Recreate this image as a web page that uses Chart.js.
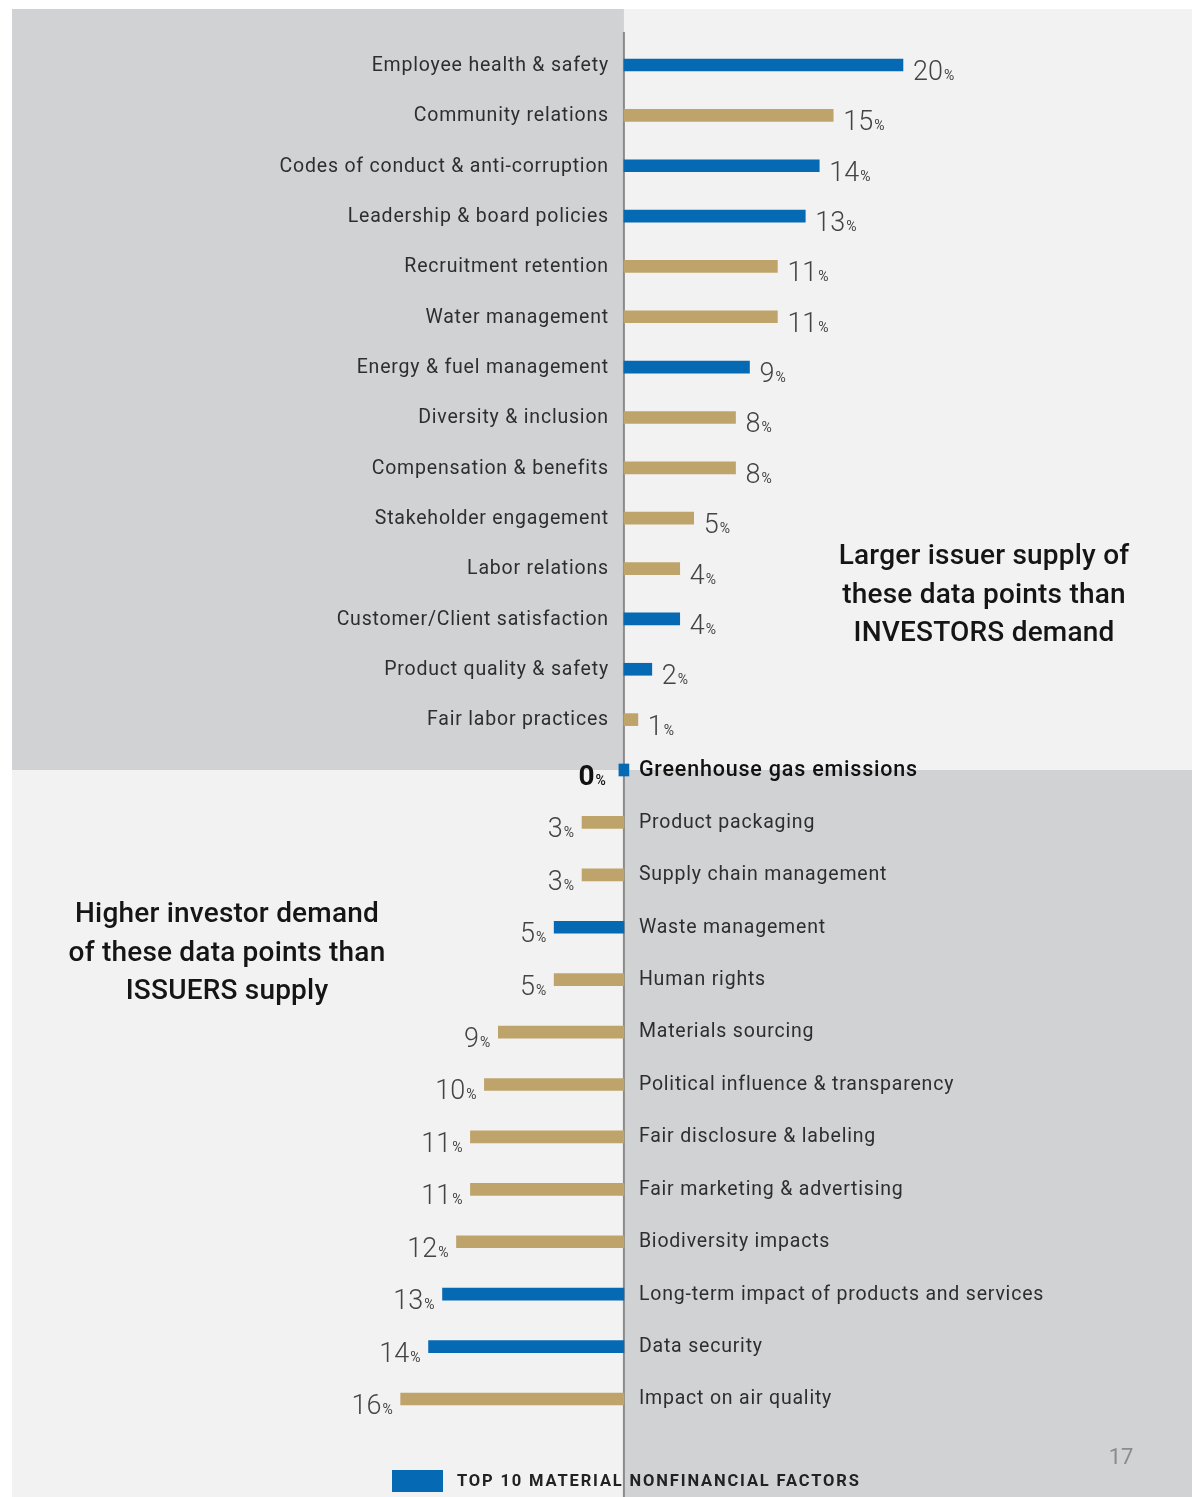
<!DOCTYPE html>
<html>
<head>
<meta charset="utf-8">
<script src="https://cdn.jsdelivr.net/npm/chart.js@4.4.1/dist/chart.umd.min.js"></script>
<style>
html,body{margin:0;padding:0;background:#ffffff;}
#wrap{width:1192px;height:1497px;position:relative;}
</style>
</head>
<body>
<div id="wrap"><canvas id="c" width="1192" height="1497"></canvas></div>
<script>
const categories = [
  "Employee health & safety","Community relations","Codes of conduct & anti-corruption",
  "Leadership & board policies","Recruitment retention","Water management",
  "Energy & fuel management","Diversity & inclusion","Compensation & benefits",
  "Stakeholder engagement","Labor relations","Customer/Client satisfaction",
  "Product quality & safety","Fair labor practices","Greenhouse gas emissions",
  "Product packaging","Supply chain management","Waste management","Human rights",
  "Materials sourcing","Political influence & transparency","Fair disclosure & labeling",
  "Fair marketing & advertising","Biodiversity impacts","Long-term impact of products and services",
  "Data security","Impact on air quality"
];
const values = [20,15,14,13,11,11,9,8,8,5,4,4,2,1,0,-3,-3,-5,-5,-9,-10,-11,-11,-12,-13,-14,-16];
const topTen = [1,0,1,1,0,0,1,0,0,0,0,1,1,0,1,0,0,1,0,0,0,0,0,0,1,1,0];
const topNote = ["Larger issuer supply of","these data points than","INVESTORS demand"];
const bottomNote = ["Higher investor demand","of these data points than","ISSUERS supply"];
const legendText = "TOP 10 MATERIAL NONFINANCIAL FACTORS";
const pageNumber = "17";

const BLUE = "#0569b4", GOLD = "#bea46a", GRAY = "#d1d2d4", LIGHT = "#f2f2f2";
const SPLIT = categories.indexOf("Greenhouse gas emissions");

const topIdx = categories.map((c,i)=>i).filter(i => i <= SPLIT);
const botIdx = categories.map((c,i)=>i).filter(i => i > SPLIT);

function scaleFor(i) { return i <= SPLIT ? "yTop" : "yBot"; }

const bgPlugin = {
  id: "bg",
  beforeDatasetsDraw(chart) {
    const ctx = chart.ctx, x = chart.scales.x;
    const x0 = x.getPixelForValue(0);
    const midY = chart.scales.yTop.getPixelForValue(SPLIT);
    ctx.save();
    ctx.fillStyle = "#ffffff"; ctx.fillRect(0,0,1192,1497);
    ctx.fillStyle = LIGHT; ctx.fillRect(12,9,1180,1488);
    ctx.fillStyle = GRAY;
    ctx.fillRect(12,9,x0-12,midY-9);
    ctx.fillRect(x0,midY,1192-x0,1497-midY);
    ctx.strokeStyle = "#8a8a8a"; ctx.lineWidth = 2;
    ctx.beginPath(); ctx.moveTo(x0,32); ctx.lineTo(x0,1497); ctx.stroke();
    ctx.restore();
  },
  afterDatasetsDraw(chart) {
    const ctx = chart.ctx, x = chart.scales.x;
    const x0 = x.getPixelForValue(0);
    ctx.save();
    categories.forEach((name,i) => {
      const v = values[i];
      const cy = chart.scales[scaleFor(i)].getPixelForValue(i);
      const isZero = v === 0;
      ctx.textBaseline = "middle";
      if (isZero) {
        ctx.font = "500 21.5px Roboto";
        ctx.letterSpacing = "0.8px";
        ctx.fillStyle = "#111";
      } else {
        ctx.font = "400 19.5px Roboto";
        ctx.letterSpacing = "0.8px";
        ctx.fillStyle = "#2e2e2e";
      }
      if (v > 0) { ctx.textAlign = "right"; ctx.fillText(name, x0-15, cy+1); }
      else { ctx.textAlign = "left"; ctx.fillText(name, x0+15, cy+0.5); }
      ctx.letterSpacing = "0px";
      ctx.textBaseline = "alphabetic";
      const num = String(Math.abs(v));
      const numFont = isZero ? "700 28px Roboto" : "300 27px Roboto";
      const pctFont = isZero ? "500 14px Roboto" : "400 14px Roboto";
      ctx.fillStyle = isZero ? "#111" : "#444";
      const by = cy + 15;
      if (v > 0) {
        const sx = x.getPixelForValue(v) + 10;
        ctx.textAlign = "left";
        ctx.font = numFont; ctx.fillText(num, sx, by);
        const w = ctx.measureText(num).width;
        ctx.font = pctFont; ctx.fillText("%", sx + w + 1, by);
      } else {
        const ex = isZero ? x0 - 18 : x.getPixelForValue(v) - 8;
        ctx.textAlign = "right";
        ctx.font = pctFont; ctx.fillText("%", ex, by);
        const pw = ctx.measureText("%").width;
        ctx.font = numFont; ctx.fillText(num, ex - pw - 1, by);
      }
    });
    ctx.fillStyle = "#151515";
    ctx.font = "500 28px Roboto";
    ctx.letterSpacing = "0.2px";
    ctx.textAlign = "center"; ctx.textBaseline = "middle";
    topNote.forEach((t,k) => ctx.fillText(t, 984, 557 + k*38.5));
    bottomNote.forEach((t,k) => ctx.fillText(t, 227, 915 + k*38.5));
    ctx.letterSpacing = "0px";
    ctx.fillStyle = BLUE; ctx.fillRect(392,1470,51,22);
    ctx.fillStyle = "#222";
    ctx.font = "700 16.5px Roboto";
    ctx.textAlign = "left";
    ctx.letterSpacing = "1.85px";
    ctx.fillText(legendText, 457, 1482);
    ctx.letterSpacing = "0px";
    ctx.fillStyle = "#8c8c8c";
    ctx.font = "400 22px Roboto";
    ctx.textAlign = "center";
    ctx.fillText(pageNumber, 1121, 1458);
    ctx.restore();
  }
};

function makeDataset(idx, axis) {
  return {
    data: idx.map(i => ({ x: values[i], y: i })),
    backgroundColor: idx.map(i => topTen[i] ? BLUE : GOLD),
    borderWidth: 0,
    barThickness: 12,
    minBarLength: 10,
    grouped: false,
    yAxisID: axis
  };
}

new Chart(document.getElementById("c"), {
  type: "bar",
  data: {
    datasets: [makeDataset(topIdx, "yTop"), makeDataset(botIdx, "yBot")]
  },
  options: {
    indexAxis: "y",
    responsive: false,
    animation: false,
    parsing: { xAxisKey: "x", yAxisKey: "y" },
    layout: { padding: { left: 10, right: 10, top: 39, bottom: 73 } },
    plugins: { legend: { display: false }, tooltip: { enabled: false } },
    scales: {
      x: { type: "linear", display: false, min: -44, max: 40, offset: false },
      yTop: { type: "linear", axis: "y", display: false, reverse: true, offset: false, grid: { offset: false }, min: -0.5163, max: 26.988 },
      yBot: { type: "linear", axis: "y", display: false, reverse: true, offset: false, grid: { offset: false }, min: 0.054, max: 26.477 }
    }
  },
  plugins: [bgPlugin]
});
</script>
</body>
</html>
